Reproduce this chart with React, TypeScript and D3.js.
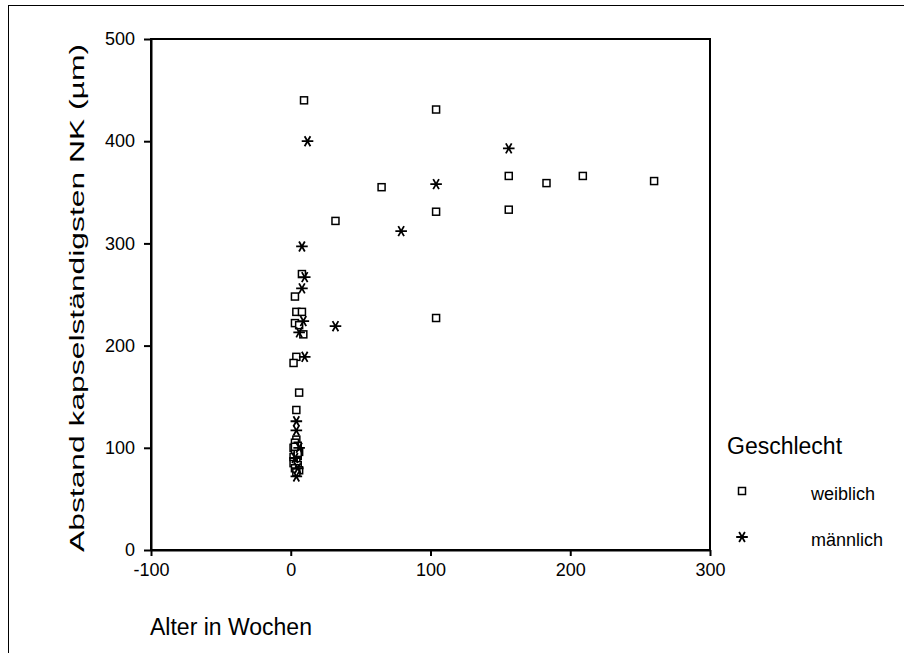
import { useRef, useEffect } from "react";
import * as d3 from "d3";

// weiblich (squares)
const femaleWeeks = [9.5, 104, 65, 156, 183, 209, 260, 32, 104, 156, 104,
  8, 3, 4, 8, 3, 6, 9, 4, 2, 6, 4,
  4, 3, 5, 2, 4, 6, 3, 5, 3, 4, 2, 5, 3, 6, 4, 2, 5, 3];
const femaleDist = [440, 431, 355, 366, 359, 366, 361, 322, 331, 333, 227,
  270, 248, 233, 233, 222, 220, 211, 189, 183, 154, 137,
  108, 105, 102, 100, 98, 96, 94, 92, 89, 87, 85, 83, 80, 78, 76, 91, 95, 101];

// männlich (asterisks)
const maleWeeks = [12, 156, 104, 79, 32, 8, 10, 8, 9, 6, 10, 4, 4, 6, 3, 5, 4];
const maleDist = [400, 393, 358, 312, 219, 297, 267, 256, 224, 213, 189, 126, 117, 100, 90, 80, 72];

const xTicks = [-100, 0, 100, 200, 300];
const yTicks = [0, 100, 200, 300, 400, 500];
const legendLabels = ["weiblich", "männlich"];

const FONT = "Liberation Sans, Arial, sans-serif";

const App = () => {
  const svgRef = useRef<SVGSVGElement>(null);

  useEffect(() => {
    const svg = d3.select(svgRef.current);
    svg.selectAll("*").remove();

    // outer frame
    svg
      .append("rect")
      .attr("x", 8.5)
      .attr("y", 5.5)
      .attr("width", 950)
      .attr("height", 700)
      .attr("fill", "white")
      .attr("stroke", "black")
      .attr("stroke-width", 1);

    const xScale = d3.scaleLinear().domain([-100, 300]).range([151, 710]);
    const yScale = d3.scaleLinear().domain([0, 500]).range([550, 39]);

    // plot box
    svg
      .append("rect")
      .attr("x", 151)
      .attr("y", 39)
      .attr("width", 710 - 151)
      .attr("height", 550 - 39)
      .attr("fill", "none")
      .attr("stroke", "black")
      .attr("stroke-width", 2);

    const xAxis = d3
      .axisBottom(xScale)
      .tickValues(xTicks)
      .tickFormat((d) => String(d))
      .tickSize(6)
      .tickSizeOuter(0)
      .tickPadding(7);
    const yAxis = d3
      .axisLeft(yScale)
      .tickValues(yTicks)
      .tickFormat((d) => String(d))
      .tickSize(7)
      .tickSizeOuter(0)
      .tickPadding(9);

    const gx = svg.append("g").attr("transform", "translate(0,550)").call(xAxis);
    const gy = svg.append("g").attr("transform", "translate(151,0)").call(yAxis);
    [gx, gy].forEach((g) => {
      g.select(".domain").attr("stroke-width", 2);
      g.selectAll(".tick line").attr("stroke-width", 2);
      g.selectAll(".tick text")
        .attr("font-family", FONT)
        .attr("font-size", 18)
        .attr("fill", "black");
    });

    // axis titles
    svg
      .append("text")
      .attr("x", 150)
      .attr("y", 635)
      .attr("font-family", FONT)
      .attr("font-size", 23)
      .text("Alter in Wochen");
    svg
      .append("text")
      .attr("transform", "translate(84,298) rotate(-90)")
      .attr("text-anchor", "middle")
      .attr("font-family", FONT)
      .attr("font-size", 21)
      .attr("textLength", 508)
      .attr("lengthAdjust", "spacingAndGlyphs")
      .text("Abstand kapselständigsten NK (µm)");

    const squareSize = 7;
    const drawSquare = (g: any, x: number, y: number) =>
      g
        .append("rect")
        .attr("x", x - squareSize / 2)
        .attr("y", y - squareSize / 2)
        .attr("width", squareSize)
        .attr("height", squareSize)
        .attr("fill", "white")
        .attr("stroke", "black")
        .attr("stroke-width", 1.5);

    const star = (r: number) => {
      const p = d3.path();
      p.moveTo(-r, 0);
      p.lineTo(r, 0);
      const dx = r * Math.cos(Math.PI / 3);
      const dy = r * Math.sin(Math.PI / 3);
      p.moveTo(-dx, -dy);
      p.lineTo(dx, dy);
      p.moveTo(-dx, dy);
      p.lineTo(dx, -dy);
      return p.toString();
    };
    const drawStar = (g: any, x: number, y: number) =>
      g
        .append("path")
        .attr("transform", `translate(${x},${y})`)
        .attr("d", star(5.8))
        .attr("stroke", "black")
        .attr("stroke-width", 1.8)
        .attr("fill", "none");

    const pts = svg.append("g");
    femaleWeeks.forEach((w, i) => drawSquare(pts, xScale(w), yScale(femaleDist[i])));
    maleWeeks.forEach((w, i) => drawStar(pts, xScale(w), yScale(maleDist[i])));

    // legend
    svg
      .append("text")
      .attr("x", 727)
      .attr("y", 454)
      .attr("font-family", FONT)
      .attr("font-size", 23)
      .text("Geschlecht");
    legendLabels.forEach((label, i) => {
      const cy = 491 + i * 46;
      if (i === 0) drawSquare(svg, 742, cy);
      else drawStar(svg, 742, cy);
      svg
        .append("text")
        .attr("x", 811)
        .attr("y", cy + 9)
        .attr("font-family", FONT)
        .attr("font-size", 18)
        .text(label);
    });
  }, []);

  return (
    <svg
      ref={svgRef}
      width={904}
      height={653}
      style={{ position: "absolute", left: 0, top: 0, background: "white" }}
    ></svg>
  );
};

export default App;
